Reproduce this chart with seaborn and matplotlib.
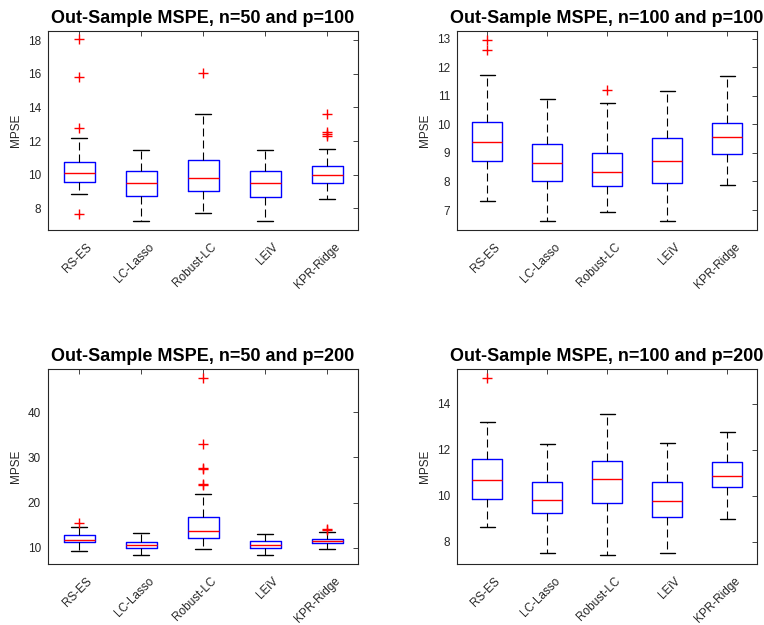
import matplotlib
matplotlib.use("Agg")
import matplotlib.pyplot as plt
import matplotlib.colors as mcolors
from matplotlib.transforms import ScaledTranslation
import seaborn as sns
import pandas as pd
import numpy as np

methods = ["RS-ES", "LC-Lasso", "Robust-LC", "LEiV", "KPR-Ridge"]
titles = ["Out-Sample MSPE, n=50 and p=100", "Out-Sample MSPE, n=100 and p=100",
          "Out-Sample MSPE, n=50 and p=200", "Out-Sample MSPE, n=100 and p=200"]

# Panel 1: n=50, p=100
p1_whislo = [8.85, 7.25, 7.70, 7.23, 8.54]
p1_q1 = [9.57, 8.75, 9.05, 8.67, 9.49]
p1_med = [10.12, 9.53, 9.83, 9.49, 9.98]
p1_q3 = [10.78, 10.24, 10.88, 10.24, 10.52]
p1_whishi = [12.17, 11.49, 13.60, 11.49, 11.55]
p1_out_m = ["RS-ES", "RS-ES", "RS-ES", "RS-ES", "Robust-LC", "KPR-Ridge", "KPR-Ridge", "KPR-Ridge", "KPR-Ridge"]
p1_out_v = [18.05, 15.82, 12.78, 7.66, 16.04, 13.60, 12.52, 12.45, 12.28]

# Panel 2: n=100, p=100
p2_whislo = [7.30, 6.61, 6.92, 6.60, 7.88]
p2_q1 = [8.72, 8.02, 7.84, 7.93, 8.95]
p2_med = [9.37, 8.65, 8.32, 8.73, 9.56]
p2_q3 = [10.07, 9.31, 9.01, 9.53, 10.06]
p2_whishi = [11.74, 10.89, 10.76, 11.17, 11.70]
p2_out_m = ["RS-ES", "RS-ES", "Robust-LC"]
p2_out_v = [12.95, 12.60, 11.20]

# Panel 3: n=50, p=200
p3_whislo = [9.19, 8.37, 9.63, 8.30, 9.67]
p3_q1 = [11.18, 10.00, 12.14, 9.93, 10.94]
p3_med = [11.77, 10.67, 13.77, 10.70, 11.45]
p3_q3 = [12.73, 11.26, 16.72, 11.40, 11.97]
p3_whishi = [14.65, 13.20, 21.97, 12.96, 13.55]
p3_out_m = ["RS-ES", "Robust-LC", "Robust-LC", "Robust-LC", "Robust-LC", "Robust-LC", "Robust-LC", "KPR-Ridge", "KPR-Ridge"]
p3_out_v = [15.54, 47.6, 32.9, 27.6, 27.4, 24.1, 23.9, 13.9, 14.05]

# Panel 4: n=100, p=200
p4_whislo = [8.62, 7.49, 7.41, 7.49, 9.00]
p4_q1 = [9.84, 9.25, 9.70, 9.06, 10.39]
p4_med = [10.70, 9.80, 10.72, 9.75, 10.86]
p4_q3 = [11.57, 10.60, 11.52, 10.58, 11.48]
p4_whishi = [13.20, 12.25, 13.55, 12.29, 12.77]
p4_out_m = ["RS-ES"]
p4_out_v = [15.10]

panels = [
    (p1_whislo, p1_q1, p1_med, p1_q3, p1_whishi, p1_out_m, p1_out_v),
    (p2_whislo, p2_q1, p2_med, p2_q3, p2_whishi, p2_out_m, p2_out_v),
    (p3_whislo, p3_q1, p3_med, p3_q3, p3_whishi, p3_out_m, p3_out_v),
    (p4_whislo, p4_q1, p4_med, p4_q3, p4_whishi, p4_out_m, p4_out_v),
]
yticks = [[8, 10, 12, 14, 16, 18], [7, 8, 9, 10, 11, 12, 13], [10, 20, 30, 40], [8, 10, 12, 14]]
ylims = [(6.71, 18.55), (6.30, 13.27), (6.39, 49.6), (7.03, 15.5)]

sns.set_style("white")
plt.rcParams["font.family"] = ["Liberation Sans", "DejaVu Sans"]

W, H = 764, 625
fig = plt.figure(figsize=(W / 100, H / 100), dpi=100)
# axes boxes in pixels: (left, top, right, bottom)
boxes = [(48, 31, 358, 230), (457, 31, 757, 230), (48, 369, 358, 564), (457, 369, 757, 564)]
axc = "#262626"
cap_half = 0.125

for i, (lo, q1, med, q3, hi, om, ov) in enumerate(panels):
    l, t, r, b = boxes[i]
    ax = fig.add_axes([l / W, 1 - b / H, (r - l) / W, (b - t) / H])
    rows = []
    for j, m in enumerate(methods):
        for v in (lo[j], q1[j], med[j], q3[j], hi[j]):
            rows.append((m, v))
    df = pd.DataFrame(rows, columns=["method", "value"])
    sns.boxplot(data=df, x="method", y="value", order=methods, whis=(0, 100), width=0.5,
                fill=False, color="blue", showfliers=False, ax=ax,
                boxprops=dict(color="#0000ff", linewidth=1.0),
                medianprops=dict(color="#ff0000", linewidth=1.0),
                whiskerprops=dict(color="#000000", linewidth=0.8, linestyle=(0, (7.2, 3.6))),
                capprops=dict(color="#000000", linewidth=1.0))
    # MATLAB-style caps: half the box width
    for ln in ax.lines:
        xd, yd = np.asarray(ln.get_xdata(), float), np.asarray(ln.get_ydata(), float)
        if (len(xd) == 2 and yd[0] == yd[1] and ln.get_linestyle() == "-"
                and mcolors.to_hex(ln.get_color()) == "#000000"):
            c = xd.mean()
            ln.set_xdata([c - cap_half, c + cap_half])
    dfo = pd.DataFrame({"method": om, "value": ov})
    sns.stripplot(data=dfo, x="method", y="value", order=methods, jitter=False, marker="+",
                  color="#ff0000", size=7, linewidth=1.0, ax=ax)
    ax.set_xlim(-0.5, 4.5)
    ax.set_ylim(*ylims[i])
    ax.set_yticks(yticks[i])
    ax.set_xlabel("")
    ax.set_ylabel("MPSE", fontsize=8.5, color=axc, labelpad=4)
    ax.set_title(titles[i], fontsize=13, fontweight="bold", pad=6, color="black")
    ax.tick_params(direction="in", top=True, right=True, length=3.5, width=0.6,
                   labelsize=8.5, colors=axc)
    ax.tick_params(axis="y", pad=5)
    ax.set_xticks(range(len(methods)))
    ax.set_xticklabels(methods, rotation=45, ha="right", rotation_mode="anchor")
    off = ScaledTranslation(0.07, -0.06, fig.dpi_scale_trans)
    for lab in ax.get_xticklabels():
        lab.set_transform(lab.get_transform() + off)
    for s in ax.spines.values():
        s.set_visible(True)
        s.set_color(axc)
        s.set_linewidth(0.8)

fig.savefig("out.png", dpi=100, facecolor="white")
